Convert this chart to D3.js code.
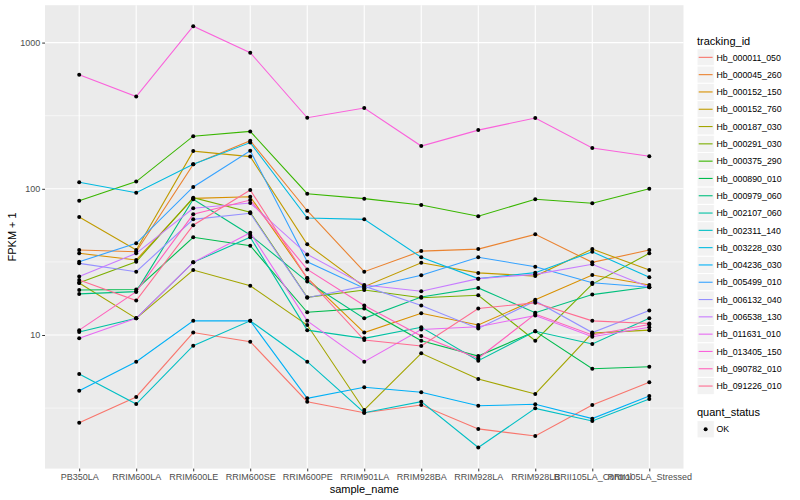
<!DOCTYPE html>
<html>
<head>
<meta charset="utf-8">
<script src="https://cdn.jsdelivr.net/npm/d3@7/dist/d3.min.js"></script>
<style>
body { margin: 0; background: #fff; }
svg text { font-family: "Liberation Sans", Arial, Helvetica, sans-serif; }
</style>
</head>
<body>
<svg id="chart" width="800" height="500"></svg>
<script>
const samples = ["PB350LA","RRIM600LA","RRIM600LE","RRIM600SE","RRIM600PE","RRIM901LA","RRIM928BA","RRIM928LA","RRIM928LB","RRII105LA_Control","RRII105LA_Stressed"];
const trackingIds = ["Hb_000011_050","Hb_000045_260","Hb_000152_150","Hb_000152_760","Hb_000187_030","Hb_000291_030","Hb_000375_290","Hb_000890_010","Hb_000979_060","Hb_002107_060","Hb_002311_140","Hb_003228_030","Hb_004236_030","Hb_005499_010","Hb_006132_040","Hb_006538_130","Hb_011631_010","Hb_013405_150","Hb_090782_010","Hb_091226_010"];
const colors = ["#F8766D","#EA8331","#D89000","#C09B00","#A3A500","#7CAE00","#39B600","#00BB4E","#00BF7D","#00C1A3","#00BFC4","#00BAE0","#00B0F6","#35A2FF","#9590FF","#C77CFF","#E76BF3","#FA62DB","#FF62BC","#FF6C91"];
const yTicks = [10, 100, 1000];
const yMinor = [Math.pow(10,0.5), Math.pow(10,1.5), Math.pow(10,2.5)];

// FPKM + 1 per tracking_id, one value per sample
const s00 = [2.51, 3.77, 10.4, 9.0, 3.50, 2.94, 3.32, 2.28, 2.04, 3.32, 4.75];
const s01 = [38.1, 37.1, 147, 213, 70.8, 27.1, 37.5, 38.7, 48.8, 31.4, 38.1];
const s02 = [36.2, 32.6, 86.0, 88.3, 24.5, 10.4, 14.1, 11.7, 17.4, 25.7, 22.0];
const s03 = [64.1, 38.1, 181, 166, 41.7, 21.4, 31.2, 26.6, 25.3, 38.7, 27.8];
const s04 = [22.7, 13.0, 27.8, 21.7, 11.7, 3.07, 7.5, 5.0, 3.95, 10.3, 10.8];
const s05 = [22.8, 31.7, 86.9, 69.1, 18.1, 20.3, 18.0, 18.7, 9.14, 22.3, 36.2];
const s06 = [82.9, 112, 229, 247, 92.6, 85.6, 77.5, 64.9, 84.8, 79.6, 100];
const s07 = [20.3, 20.5, 46.6, 40.8, 14.3, 15.2, 9.14, 7.18, 10.6, 5.88, 6.07];
const s08 = [19.1, 19.8, 84.8, 48.3, 23.2, 13.0, 18.2, 21.0, 14.2, 18.9, 21.3];
const s09 = [10.5, 13.0, 31.4, 46.6, 10.8, 9.49, 11.3, 6.67, 10.6, 8.68, 13.0];
const s10 = [5.41, 3.37, 8.45, 12.5, 6.57, 2.94, 3.50, 1.70, 3.15, 2.58, 3.65];
const s11 = [111, 94.0, 147, 207, 63.1, 61.8, 34.0, 24.3, 26.7, 37.1, 24.8];
const s12 = [4.16, 6.57, 12.5, 12.5, 3.69, 4.39, 4.06, 3.28, 3.36, 2.68, 3.83];
const s13 = [31.7, 42.4, 103, 182, 31.7, 20.9, 25.6, 34.0, 29.3, 22.8, 21.2];
const s14 = [30.9, 27.1, 61.8, 68.0, 18.0, 21.6, 15.9, 11.1, 17.1, 10.4, 14.7];
const s15 = [25.1, 36.2, 73.6, 80.0, 35.6, 22.0, 19.9, 24.3, 26.0, 30.5, 21.2];
const s16 = [9.49, 13.0, 31.4, 50.1, 12.5, 6.57, 10.9, 11.4, 13.6, 9.74, 11.3];
const s17 = [603, 427, 1293, 853, 306, 357, 196, 252, 305, 190, 167];
const s18 = [10.8, 19.8, 66.9, 83.8, 28.1, 15.9, 9.84, 6.93, 13.9, 10.0, 11.8];
const s19 = [23.8, 17.2, 56.3, 98.1, 24.4, 9.24, 8.41, 15.2, 16.6, 12.5, 12.0];
const seriesValues = [s00,s01,s02,s03,s04,s05,s06,s07,s08,s09,s10,s11,s12,s13,s14,s15,s16,s17,s18,s19];

const svg = d3.select("#chart");
const panel = {left: 45, right: 683.5, top: 5.2, bottom: 468.6};

const x = d3.scalePoint().domain(samples).range([panel.left, panel.right]).padding(0.6);
const allVals = seriesValues.flat();
const lmin = Math.log10(d3.min(allVals)), lmax = Math.log10(d3.max(allVals));
const ex = (lmax - lmin) * 0.05;
const y = d3.scaleLog().domain([Math.pow(10, lmin - ex), Math.pow(10, lmax + ex)]).range([panel.bottom, panel.top]);

// panel background
svg.append("rect").attr("x", panel.left).attr("y", panel.top)
  .attr("width", panel.right - panel.left).attr("height", panel.bottom - panel.top)
  .attr("fill", "#EBEBEB");

const grid = svg.append("g");
yMinor.forEach(v => {
  grid.append("line").attr("x1", panel.left).attr("x2", panel.right)
    .attr("y1", y(v)).attr("y2", y(v)).attr("stroke", "#fff").attr("stroke-width", 0.55);
});
yTicks.forEach(v => {
  grid.append("line").attr("x1", panel.left).attr("x2", panel.right)
    .attr("y1", y(v)).attr("y2", y(v)).attr("stroke", "#fff").attr("stroke-width", 1.1);
});
samples.forEach(s => {
  grid.append("line").attr("x1", x(s)).attr("x2", x(s))
    .attr("y1", panel.top).attr("y2", panel.bottom).attr("stroke", "#fff").attr("stroke-width", 1.1);
});

// lines
const line = d3.line().x((d, i) => x(samples[i])).y(d => y(d));
const lines = svg.append("g");
seriesValues.forEach((vals, k) => {
  lines.append("path").attr("d", line(vals)).attr("fill", "none")
    .attr("stroke", colors[k]).attr("stroke-width", 1.1);
});
// points
const pts = svg.append("g");
seriesValues.forEach(vals => {
  vals.forEach((v, i) => {
    pts.append("circle").attr("cx", x(samples[i])).attr("cy", y(v)).attr("r", 2).attr("fill", "#000");
  });
});

// axes
const xAxis = d3.axisBottom(x).tickSize(2.8).tickPadding(2);
const gx = svg.append("g").attr("transform", `translate(0,${panel.bottom})`).call(xAxis);
gx.select(".domain").remove();
gx.selectAll(".tick line").attr("stroke", "#333333");
gx.selectAll(".tick text").attr("fill", "#4D4D4D").attr("font-size", "9px");

const yAxis = d3.axisLeft(y).tickValues(yTicks).tickFormat(d3.format("d")).tickSize(2.8).tickPadding(2);
const gy = svg.append("g").attr("transform", `translate(${panel.left},0)`).call(yAxis);
gy.select(".domain").remove();
gy.selectAll(".tick line").attr("stroke", "#333333");
gy.selectAll(".tick text").attr("fill", "#4D4D4D").attr("font-size", "9px");

svg.append("text").attr("x", (panel.left + panel.right) / 2).attr("y", 493)
  .attr("text-anchor", "middle").attr("font-size", "11px").attr("fill", "#000").text("sample_name");
svg.append("text").attr("transform", `translate(16,${(panel.top + panel.bottom) / 2}) rotate(-90)`)
  .attr("text-anchor", "middle").attr("font-size", "11px").attr("fill", "#000").text("FPKM + 1");

// legend
const lg = svg.append("g");
lg.append("text").attr("x", 697).attr("y", 44.5).attr("font-size", "11px").attr("fill", "#000").text("tracking_id");
const keyH = 17.3, key0 = 48.7;
trackingIds.forEach((id, i) => {
  const yy = key0 + i * keyH;
  lg.append("rect").attr("x", 697).attr("y", yy).attr("width", keyH).attr("height", keyH)
    .attr("fill", "#F2F2F2").attr("stroke", "#fff").attr("stroke-width", 1);
  lg.append("line").attr("x1", 698.7).attr("x2", 712.6).attr("y1", yy + keyH / 2).attr("y2", yy + keyH / 2)
    .attr("stroke", colors[i]).attr("stroke-width", 1.1);
  lg.append("text").attr("x", 716.5).attr("y", yy + keyH / 2 + 3.2).attr("font-size", "8.8px").attr("fill", "#000").text(id);
});
lg.append("text").attr("x", 697).attr("y", 416).attr("font-size", "11px").attr("fill", "#000").text("quant_status");
const qs = 420.6;
lg.append("rect").attr("x", 697).attr("y", qs).attr("width", keyH).attr("height", keyH)
  .attr("fill", "#F2F2F2").attr("stroke", "#fff").attr("stroke-width", 1);
lg.append("circle").attr("cx", 697 + keyH / 2).attr("cy", qs + keyH / 2).attr("r", 2).attr("fill", "#000");
lg.append("text").attr("x", 716.5).attr("y", qs + keyH / 2 + 3.2).attr("font-size", "8.8px").attr("fill", "#000").text("OK");
</script>
</body>
</html>
